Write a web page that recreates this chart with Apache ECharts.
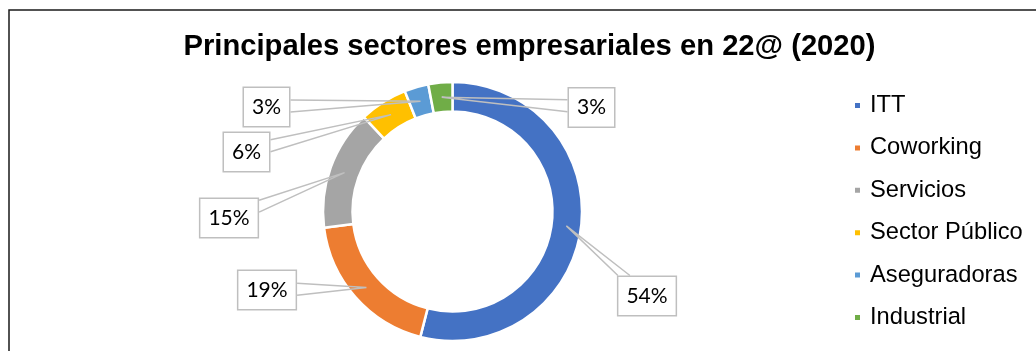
<!DOCTYPE html>
<html>
<head>
<meta charset="utf-8">
<script src="https://cdn.jsdelivr.net/npm/echarts@6/dist/echarts.min.js"></script>
<style>
  html, body { margin: 0; padding: 0; background: #fff; }
  #chart { width: 1036px; height: 351px; }
</style>
</head>
<body>
<div id="chart"></div>
<script>
// Sector shares, in percent
const sectors = ['ITT', 'Coworking', 'Servicios', 'Sector Público', 'Aseguradoras', 'Industrial'];
const shares = [54, 19, 15, 6, 3, 3];
const sectorColors = ['#4472C4', '#ED7D31', '#A5A5A5', '#FFC000', '#5B9BD5', '#70AD47'];

// Ring geometry and where each callout box sits
const ringCenter = [452.5, 211.5];
const ringRadius = [100, 129.5];
const calloutCenters = [[647, 296], [267, 290], [229, 218], [246.5, 152], [266.5, 107], [591.5, 107.5]];

const total = shares.reduce((a, b) => a + b, 0);
const pieData = sectors.map((name, i) => ({ name: name, value: shares[i] }));

// Point in the middle of the ring, at the middle angle of slice i (clockwise from 12 o'clock)
function ringMidPoint(i) {
  let before = 0;
  for (let k = 0; k < i; k++) before += shares[k];
  const a = (before + shares[i] / 2) / total * Math.PI * 2;
  const rm = (ringRadius[0] + ringRadius[1]) / 2;
  return [ringCenter[0] + rm * Math.sin(a), ringCenter[1] - rm * Math.cos(a)];
}

// Two points on the box edge facing the tip: the base of the callout wedge
function calloutBase(tip, cx, cy, w, h) {
  const dx = tip[0] - cx, dy = tip[1] - cy;
  const hw = w / 2, hh = h / 2, half = 6;
  const tx = dx !== 0 ? hw / Math.abs(dx) : Infinity;
  const ty = dy !== 0 ? hh / Math.abs(dy) : Infinity;
  if (tx < ty) {
    const x = cx + Math.sign(dx) * hw;
    let y = cy + dy * tx;
    y = Math.min(Math.max(y, cy - hh + half + 1), cy + hh - half - 1);
    return [[x, y - half], [x, y + half]];
  }
  const y = cy + Math.sign(dy) * hh;
  let x = cx + dx * ty;
  x = Math.min(Math.max(x, cx - hw + half + 1), cx + hw - half - 1);
  return [[x - half, y], [x + half, y]];
}

const chart = echarts.init(document.getElementById('chart'), null, { renderer: 'canvas' });

chart.setOption({
  animation: false,
  color: sectorColors,
  title: {
    text: 'Principales sectores empresariales en 22@ (2020)',
    left: 529.5,
    top: 32.5,
    padding: 0,
    textAlign: 'center',
    textStyle: {
      fontFamily: 'Liberation Sans',
      fontWeight: 'bold',
      fontSize: 29.2,
      lineHeight: 29,
      color: '#000'
    }
  },
  legend: {
    orient: 'vertical',
    left: 853,
    top: 93.5,
    padding: 0,
    itemWidth: 7,
    itemHeight: 7,
    itemGap: 18.4,
    icon: 'rect',
    data: sectors,
    textStyle: {
      fontFamily: 'Liberation Sans',
      fontSize: 23.7,
      lineHeight: 24,
      color: '#000',
      padding: [0, 0, 0, 4]
    }
  },
  graphic: [{
    type: 'polyline',
    z: -10,
    shape: { points: [[9, 400], [9, 10], [1100, 10]] },
    style: { fill: 'none', stroke: '#1a1a1a', lineWidth: 1.5 },
    silent: true
  }],
  series: [
    {
      // the ring itself
      type: 'pie',
      z: 2,
      center: ringCenter,
      radius: ringRadius,
      startAngle: 90,
      clockwise: true,
      silent: true,
      itemStyle: { borderColor: '#fff', borderWidth: 2.5 },
      label: { show: false },
      labelLine: { show: false },
      emphasis: { disabled: true },
      data: pieData
    },
    {
      // percentage callouts, drawn over the ring
      type: 'pie',
      z: 3,
      center: ringCenter,
      radius: ringRadius,
      startAngle: 90,
      clockwise: true,
      silent: true,
      avoidLabelOverlap: false,
      itemStyle: { color: 'rgba(0,0,0,0)', borderWidth: 0 },
      label: {
        show: true,
        position: 'outside',
        formatter: p => p.value + '%',
        fontFamily: 'Lato',
        fontSize: 21,
        lineHeight: 22,
        color: '#000',
        backgroundColor: '#fff',
        borderColor: '#BFBFBF',
        borderWidth: 1.5,
        padding: [8, 8, 8, 8]
      },
      labelLine: {
        show: true,
        length: 10,
        length2: 10,
        smooth: false,
        lineStyle: { color: '#BFBFBF', width: 1.5 }
      },
      labelLayout: function (p) {
        const c = calloutCenters[p.dataIndex];
        const w = p.labelRect.width, h = p.labelRect.height;
        const tip = ringMidPoint(p.dataIndex);
        const base = calloutBase(tip, c[0], c[1], w, h);
        return {
          x: c[0],
          y: c[1],
          align: 'center',
          verticalAlign: 'middle',
          labelLinePoints: [base[0], tip, base[1]]
        };
      },
      emphasis: { disabled: true },
      data: pieData
    }
  ]
});
</script>
</body>
</html>
